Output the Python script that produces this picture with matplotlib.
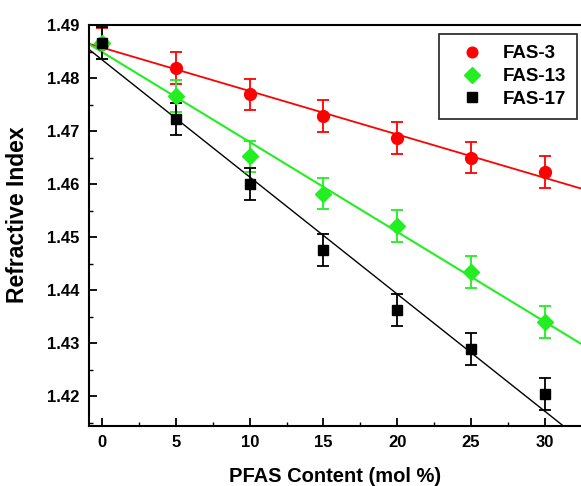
import numpy as np
import matplotlib
matplotlib.use("Agg")
import matplotlib.pyplot as plt
from matplotlib.ticker import MultipleLocator, FormatStrFormatter

plt.rcParams['font.family'] = ['Liberation Sans', 'DejaVu Sans']
plt.rcParams['font.weight'] = 'bold'

x = [0, 5, 10, 15, 20, 25, 30]
fas3 = [1.4865, 1.4819, 1.4769, 1.4728, 1.4687, 1.4650, 1.4623]
fas13 = [1.4866, 1.4766, 1.4652, 1.4582, 1.4521, 1.4434, 1.4340]
fas17 = [1.4866, 1.4723, 1.4600, 1.4475, 1.4362, 1.4289, 1.4204]
err = [0.003] * 7
labels = ["FAS-3", "FAS-13", "FAS-17"]
colors = ["#ff0000", "#22ee22", "#000000"]
markers = ["o", "D", "s"]
msizes = [8.5, 8.5, 7.5]
fitwidths = [1.3, 1.5, 1.0]

fig = plt.figure(figsize=(5.81, 4.86), dpi=100)
ax = fig.add_axes([89/581, 1 - 425.7/486, 1 - 89/581, (425.7 - 25)/486])
xlim = (-0.9, 32.46)
ax.set_xlim(*xlim)
ax.set_ylim(1.4144, 1.49)

xs = np.linspace(xlim[0], xlim[1], 200)
handles = []
for ys, lab, c, m, ms, lw in zip([fas3, fas13, fas17], labels, colors, markers, msizes, fitwidths):
    p = np.polyfit(x, ys, 1)
    ax.plot(xs, np.polyval(p, xs), color=c, lw=lw, zorder=2)
    ax.errorbar(x, ys, yerr=err, fmt='none', ecolor=c, elinewidth=1.3, capsize=4, capthick=1.3, zorder=3)
    h, = ax.plot(x, ys, linestyle='none', marker=m, color=c, markersize=ms, label=lab, zorder=4)
    handles.append(h)

ax.xaxis.set_major_locator(MultipleLocator(5))
ax.xaxis.set_minor_locator(MultipleLocator(2.5))
ax.yaxis.set_major_locator(MultipleLocator(0.01))
ax.yaxis.set_minor_locator(MultipleLocator(0.005))
ax.tick_params(which='major', direction='in', length=6, width=1.3, labelsize=12, pad=7)
ax.tick_params(which='minor', direction='in', length=3, width=1.0)
ax.tick_params(top=False, right=False, which='both')
for lab in ax.get_xticklabels() + ax.get_yticklabels():
    lab.set_fontweight('bold')
ax.yaxis.set_major_formatter(FormatStrFormatter('%.2f'))
for s in ['left', 'bottom', 'top']:
    ax.spines[s].set_linewidth(1.5)
ax.spines['right'].set_visible(False)

ax.set_xlabel("PFAS Content (mol %)", fontsize=14.5, fontweight='bold', labelpad=12)
ax.set_ylabel("Refractive Index", fontsize=16.5, fontweight='bold')
ax.yaxis.set_label_coords(-0.122, 0.526)

leg = ax.legend(handles=handles, loc='upper right', bbox_to_anchor=(0.992, 0.9775),
                frameon=True, fancybox=False, edgecolor='black', fontsize=13.5,
                handlelength=2.3, handletextpad=0.5, borderpad=0.6, labelspacing=0.3,
                borderaxespad=0, markerscale=0.9)
leg.get_frame().set_linewidth(1.3)
for t in leg.get_texts():
    t.set_fontweight('bold')

fig.savefig("out.png", dpi=100)
